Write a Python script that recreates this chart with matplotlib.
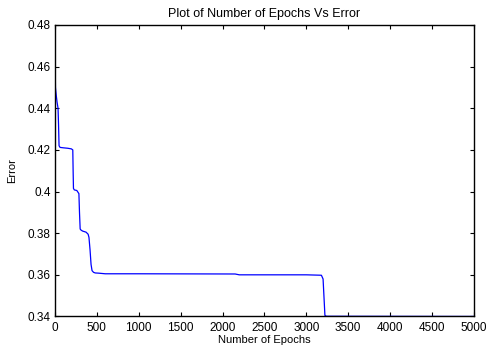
import matplotlib
matplotlib.use("Agg")
import matplotlib.pyplot as plt

# values
epochs = [0, 2, 5, 15, 24, 36, 42, 48, 60, 100, 150, 195, 212, 216, 220,
          230, 260, 285, 292, 300, 310, 330, 370, 395, 405, 418, 430, 442,
          460, 480, 520, 600, 1000, 2150, 2200, 3000, 3180, 3200, 3210,
          3222, 3240, 5000]
errors = [0.48, 0.46, 0.45, 0.446, 0.443, 0.440, 0.432, 0.422, 0.4212,
          0.421, 0.4208, 0.4205, 0.420, 0.410, 0.4015, 0.4008, 0.4005,
          0.399, 0.390, 0.382, 0.3815, 0.381, 0.3805, 0.3795, 0.378, 0.372,
          0.365, 0.362, 0.3612, 0.3609, 0.3608, 0.3605, 0.3605, 0.3604,
          0.3600, 0.3600, 0.3598, 0.358, 0.350, 0.3405, 0.3401, 0.3400]

x_ticks = [0, 500, 1000, 1500, 2000, 2500, 3000, 3500, 4000, 4500, 5000]
y_ticks = [0.34, 0.36, 0.38, 0.4, 0.42, 0.44, 0.46, 0.48]
y_labels = ["0.34", "0.36", "0.38", "0.4", "0.42", "0.44", "0.46", "0.48"]

plt.rcParams["font.family"] = ["Liberation Sans", "DejaVu Sans"]

fig = plt.figure(figsize=(4.87, 3.47), dpi=100)
ax = fig.add_axes([0.113, 0.088, 0.86, 0.84])

ax.plot(epochs, errors, color="#0000ff", linewidth=0.9)

ax.set_xlim(0, 5000)
ax.set_ylim(0.34, 0.48)
ax.set_xticks(x_ticks)
ax.set_yticks(y_ticks)
ax.set_yticklabels(y_labels)
ax.tick_params(direction="in", top=True, right=True, length=3, width=0.8,
               labelsize=8.5)
ax.tick_params(axis="x", pad=4)
ax.tick_params(axis="y", pad=3)
for s in ax.spines.values():
    s.set_linewidth(1.0)

ax.set_title("Plot of Number of Epochs Vs Error", fontsize=9, pad=6)
ax.set_xlabel("Number of Epochs", fontsize=8, labelpad=1)
ax.set_ylabel("Error", fontsize=8, labelpad=8)

fig.savefig("out.png", dpi=100)
